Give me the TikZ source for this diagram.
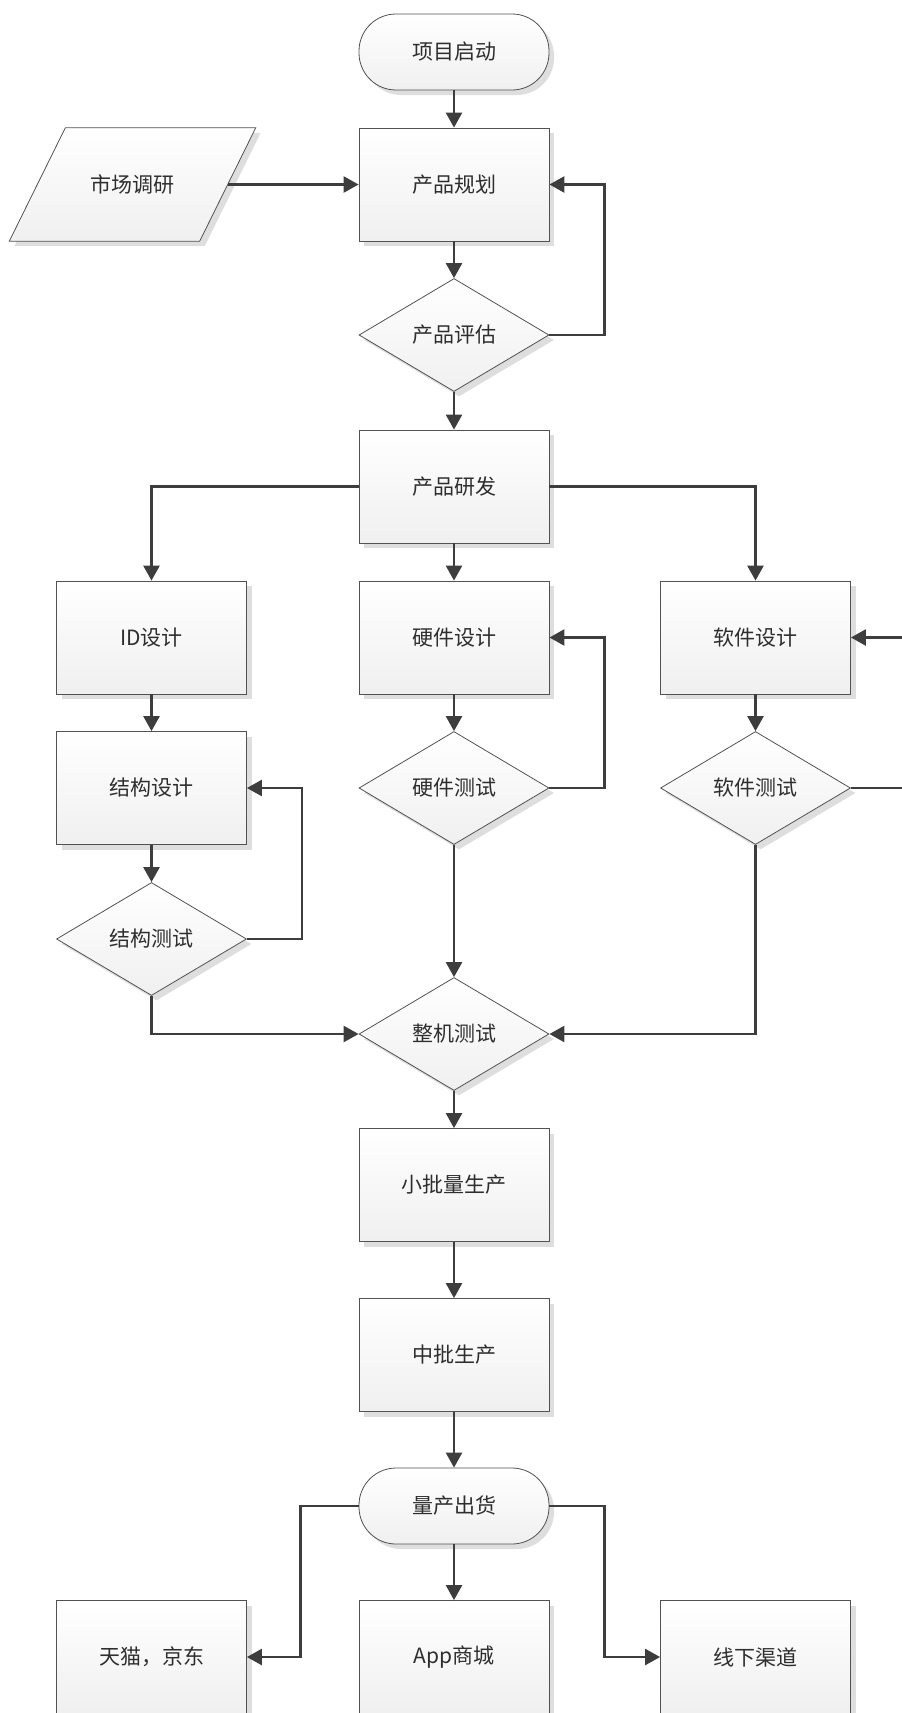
\documentclass[tikz,border=0pt]{standalone}
\usepackage{fontspec}
\setmainfont{Noto Sans CJK SC}
\usetikzlibrary{shapes.geometric, arrows.meta, shadows, calc, backgrounds}

\begin{document}
\begin{tikzpicture}[x=1pt, y=-1pt,
  every node/.style={font=\fontsize{21}{25}\selectfont, text=black!82},
  shaded/.style={draw=black!68, line width=0.8pt, top color=white, bottom color=black!6,
    general shadow={fill=black!13, shadow xshift=5pt, shadow yshift=-5pt}},
  procbox/.style={shaded, rectangle, minimum width=190pt, minimum height=113pt, inner sep=0pt},
  termbox/.style={shaded, rectangle, rounded corners=37pt, minimum width=190pt, minimum height=76pt, inner sep=0pt},
  decision/.style={shaded, diamond, aspect=1.68, minimum width=190pt, minimum height=113pt, inner sep=0pt},
  plainbox/.style={rectangle, minimum width=190pt, minimum height=113pt, inner sep=0pt},
  link/.style={draw=black!76, line width=2.5pt, -{Triangle[length=15pt, width=16pt]}}
]
\useasboundingbox (0,0) rectangle (902,1713);
\clip (0,0) rectangle (902,1713);

% main column
\node[termbox]  (start) at (454,52)     {项目启动};
\node[procbox]  (plan)  at (454,184.5)  {产品规划};
\node[decision] (eval)  at (454,335)    {产品评估};
\node[procbox]  (dev)   at (454,486.5)  {产品研发};
\node[procbox]  (hw)    at (454,637.5)  {硬件设计};
\node[decision] (hwtest) at (454,788)   {硬件测试};
\node[decision] (whole) at (454,1034)   {整机测试};
\node[procbox]  (small) at (454,1185)   {小批量生产};
\node[procbox]  (mid)   at (454,1355)   {中批生产};
\node[termbox]  (ship)  at (454,1506)   {量产出货};
\node[procbox]  (app)   at (454,1657)   {App商城};

% market research input
\node[plainbox] (market) at (132.5,184.5) {市场调研};
\begin{scope}[on background layer]
  \path[shaded] ($(market.south west)+(-28,0)$) -- ($(market.north west)+(28,0)$)
    -- ($(market.north east)+(28,0)$) -- ($(market.south east)+(-28,0)$) -- cycle;
\end{scope}

% left column
\node[procbox]  (id)     at (151.5,637.5) {ID设计};
\node[procbox]  (struct) at (151.5,788)   {结构设计};
\node[decision] (sttest) at (151.5,939)   {结构测试};
\node[procbox]  (tmall)  at (151.5,1657)  {天猫，京东};

% right column
\node[procbox]  (sw)      at (755.5,637.5) {软件设计};
\node[decision] (swtest)  at (755.5,788)   {软件测试};
\node[procbox]  (offline) at (755.5,1657)  {线下渠道};

\coordinate (rim) at (920,0);

% connectors
\draw[link] (start) -- (plan);
\draw[link] (market.east) -- (plan.west);
\draw[link] (plan) -- (eval);
\draw[link] (eval.east) -- ++(55,0) |- (plan.east);
\draw[link] (eval) -- (dev);
\draw[link] (dev.west) -| (id.north);
\draw[link] (dev) -- (hw);
\draw[link] (dev.east) -| (sw.north);

\draw[link] (id) -- (struct);
\draw[link] (struct) -- (sttest);
\draw[link] (sttest.east) -- ++(55,0) |- (struct.east);
\draw[link] (sttest.south) |- (whole.west);

\draw[link] (hw) -- (hwtest);
\draw[link] (hwtest.east) -- ++(55,0) |- (hw.east);
\draw[link] (hwtest) -- (whole);

\draw[link] (sw) -- (swtest);
\draw[link] (swtest.east) -- (swtest.east -| rim) |- (sw.east);
\draw[link] (swtest.south) |- (whole.east);

\draw[link] (whole) -- (small);
\draw[link] (small) -- (mid);
\draw[link] (mid) -- (ship);
\draw[link] (ship.west) -- ++(-58,0) |- (tmall.east);
\draw[link] (ship) -- (app);
\draw[link] (ship.east) -- ++(55,0) |- (offline.west);
\end{tikzpicture}
\end{document}
